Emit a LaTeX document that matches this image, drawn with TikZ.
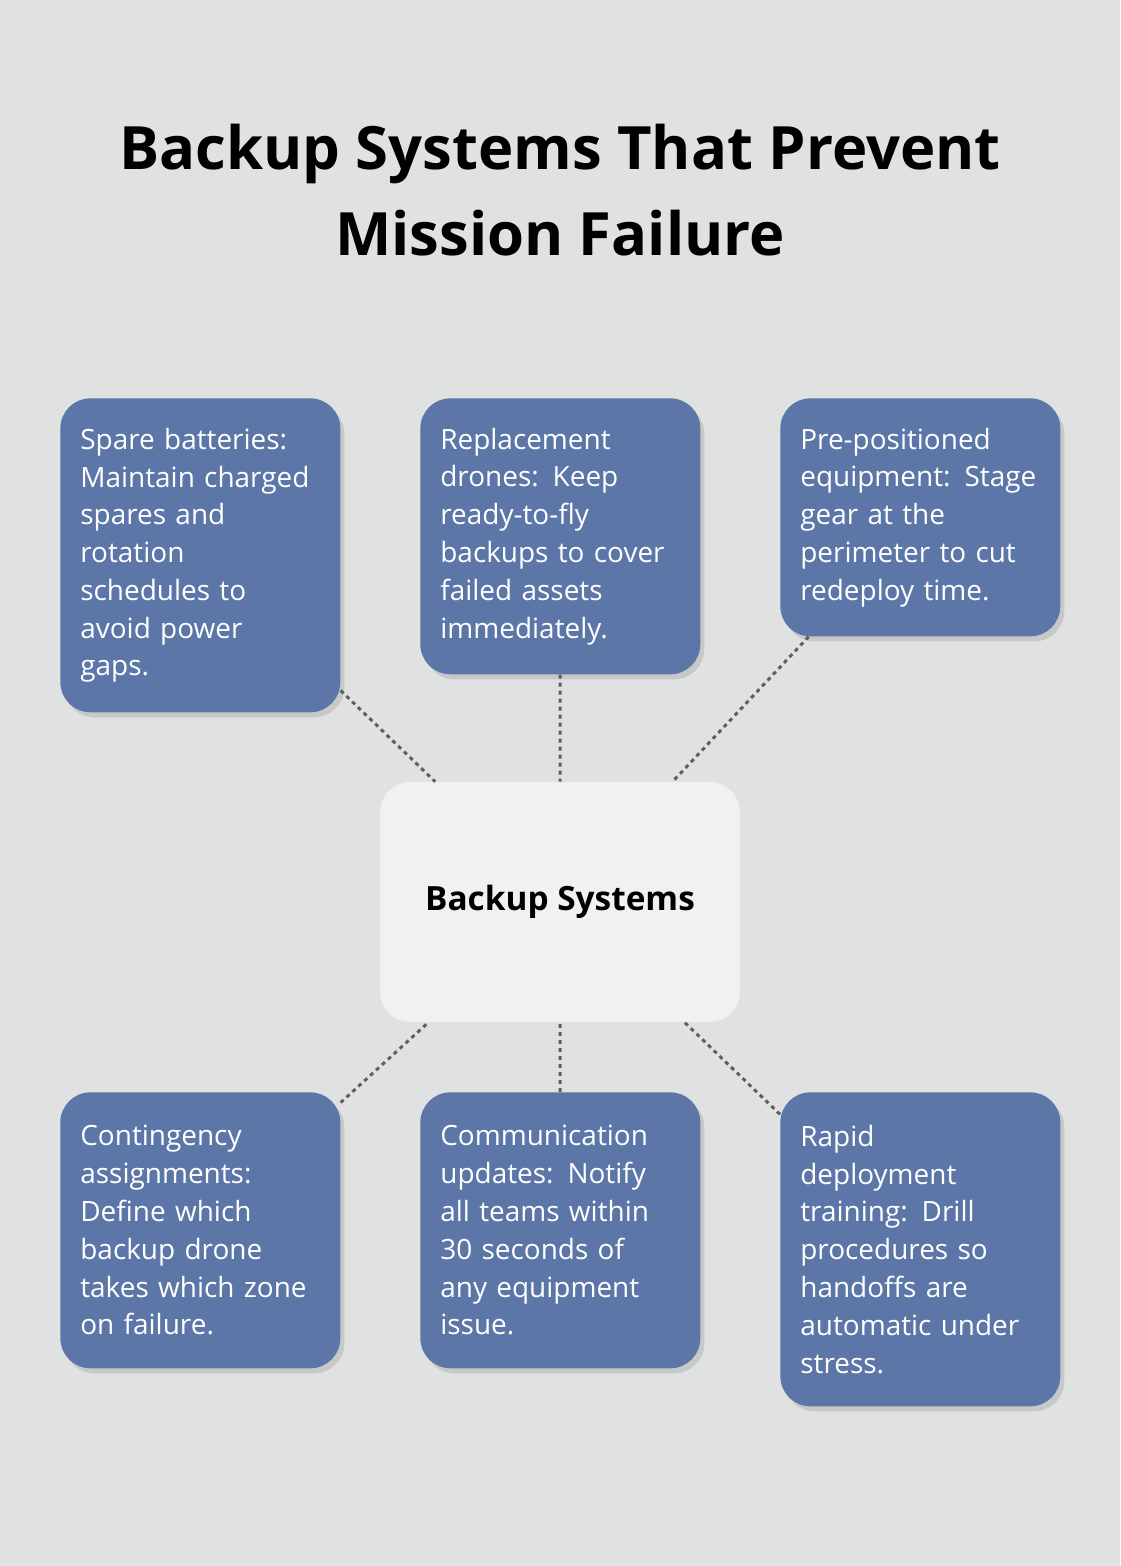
\documentclass[tikz,border=0pt]{standalone}
\usepackage{fontspec}
\setmainfont{Open Sans}
\usetikzlibrary{shadows}
\definecolor{bgcol}{HTML}{E0E2E1}
\definecolor{boxcol}{HTML}{5B76A7}
\definecolor{hubcol}{HTML}{F0F1F3}
\definecolor{linkcol}{HTML}{5F5F5F}
\tikzset{
  item/.style={rectangle, rounded corners=0.6cm, fill=boxcol, text=white,
    text width=4.8cm, align=left, inner xsep=0.4cm, inner ysep=0pt,
    anchor=north west, drop shadow={opacity=0.25, shadow xshift=0.08cm, shadow yshift=-0.1cm},
    font=\fontsize{15.9}{21.5}\selectfont},
  hub/.style={rectangle, rounded corners=0.6cm, fill=hubcol, minimum width=7.2cm,
    minimum height=4.8cm, font=\fontsize{19}{23}\selectfont\bfseries},
  link/.style={draw=linkcol, line width=0.06cm, dash pattern=on 0.08cm off 0.08cm}
}
\begin{document}
\begin{tikzpicture}[x=0.02cm, y=-0.02cm]
% background
\fill[bgcol] (0,0) rectangle (1120,1566);
\useasboundingbox (0,0) rectangle (1120,1566);

% title
\node[font=\fontsize{34}{48.5}\selectfont\bfseries, align=center] (title) at (560,190)
  {Backup Systems That Prevent\\Mission Failure};

% centre
\node[hub] (hub) at (560,902) {Backup Systems};

% top row
\node[item, minimum height=6.28cm] (batt) at (60,398)
  {Spare batteries:\\Maintain charged\\spares and\\rotation\\schedules to\\avoid power\\gaps.};
\node[item, minimum height=5.52cm] (drone) at (420,398)
  {Replacement\\drones: Keep\\ready-to-fly\\backups to cover\\failed assets\\immediately.};
\node[item, minimum height=4.76cm] (gear) at (780,398)
  {Pre-positioned\\equipment: Stage\\gear at the\\perimeter to cut\\redeploy time.};

% bottom row
\node[item, minimum height=5.52cm] (zone) at (60,1092)
  {Contingency\\assignments:\\Define which\\backup drone\\takes which zone\\on failure.};
\node[item, minimum height=5.52cm] (comm) at (420,1092)
  {Communication\\updates: Notify\\all teams within\\30 seconds of\\any equipment\\issue.};
\node[item, minimum height=6.28cm] (drill) at (780,1092)
  {Rapid\\deployment\\training: Drill\\procedures so\\handoffs are\\automatic under\\stress.};

% links
\foreach \n in {batt,drone,gear,zone,comm,drill}
  \draw[link] (\n) -- (hub);
\end{tikzpicture}
\end{document}
